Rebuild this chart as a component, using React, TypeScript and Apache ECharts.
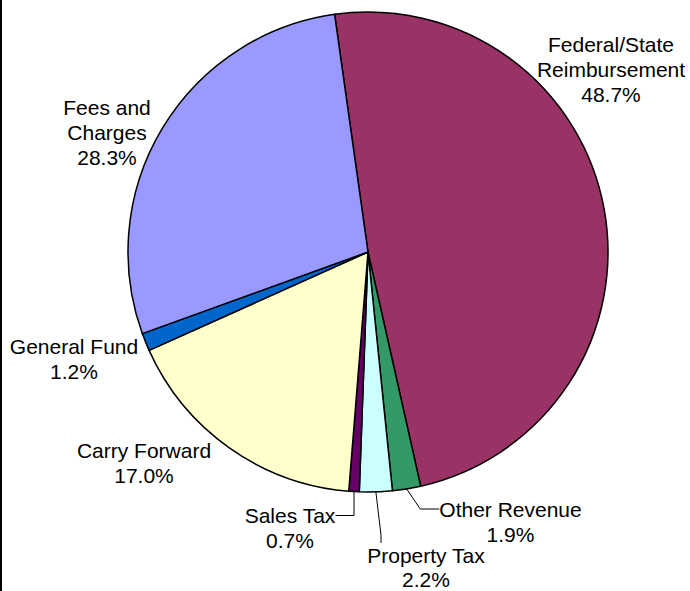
import React, { useEffect, useRef } from "react";
import * as echarts from "echarts";

// ---- data ----
const sliceNames = [
  "Federal/State\nReimbursement",
  "Other Revenue",
  "Property Tax",
  "Sales Tax",
  "Carry Forward",
  "General Fund",
  "Fees and\nCharges",
];
const sliceValues = [48.7, 1.9, 2.2, 0.7, 17.0, 1.2, 28.3];
const sliceColors = ["#993366", "#339966", "#CCFFFF", "#660066", "#FFFFCC", "#0066CC", "#9999FF"];

// ---- label layout (positions only) ----
const labelPlacement = [
  { x: 611, y: 69, align: "center", verticalAlign: "middle" },
  { x: 510.5, y: 471.5, align: "center", verticalAlign: "top" },
  { x: 381, y: 543, align: "center", verticalAlign: "top" },
  { x: 290, y: 478, align: "center", verticalAlign: "top" },
  { x: 144, y: 463, align: "center", verticalAlign: "middle" },
  { x: 74, y: 358.5, align: "center", verticalAlign: "middle" },
  { x: 107, y: 132, align: "center", verticalAlign: "middle" },
];
const LH = 25;
const labelExtras: any[] = [
  {},
  { padding: [LH, 0, 0, 0], backgroundColor: "rgba(0,0,0,0)" },
  { padding: [0, 0, 0, 90], backgroundColor: "rgba(0,0,0,0)", lineHeight: 24 },
  { padding: [LH, 0, 0, 0], backgroundColor: "rgba(0,0,0,0)" },
  {},
  {},
  {},
];
const leaderLines: any[] = [
  { show: false },
  { show: true, length2: 19 },
  { show: true, length2: 8 },
  { show: true, length2: 20 },
  { show: false },
  { show: false },
  { show: false },
];

export default function App() {
  const ref = useRef<HTMLDivElement>(null);
  useEffect(() => {
    if (!ref.current) return;
    const chart = echarts.init(ref.current, null, { renderer: "svg" });
    const data = sliceNames.map((name, i) => ({
      name,
      value: sliceValues[i],
      itemStyle: { color: sliceColors[i] },
      label: labelExtras[i],
      labelLine: leaderLines[i],
    }));
    chart.setOption({
      animation: false,
      backgroundColor: "#ffffff",
      graphic: [
        {
          type: "line",
          shape: { x1: 1, y1: 0, x2: 1, y2: 591 },
          style: { stroke: "#000", lineWidth: 2 },
          silent: true,
        },
      ],
      series: [
        {
          type: "pie",
          center: [368, 252],
          radius: 240,
          startAngle: 98,
          clockwise: true,
          avoidLabelOverlap: false,
          silent: true,
          emphasis: { disabled: true },
          itemStyle: { borderColor: "#000", borderWidth: 1.5 },
          label: {
            show: true,
            position: "outside",
            color: "#000",
            fontFamily: "'Liberation Sans', Arial, sans-serif",
            fontSize: 21,
            lineHeight: LH,
            formatter: (p: any) => `${p.name}\n${Number(p.value).toFixed(1)}%`,
          },
          labelLine: {
            lineStyle: { color: "#000", width: 1 },
            length: 15,
            minTurnAngle: 90,
          },
          labelLayout: (params: any) => labelPlacement[params.dataIndex],
          data,
        },
      ],
    });
    return () => chart.dispose();
  }, []);
  return (
    <div
      ref={ref}
      style={{ position: "fixed", left: 0, top: 0, width: 690, height: 591 }}
    />
  );
}
